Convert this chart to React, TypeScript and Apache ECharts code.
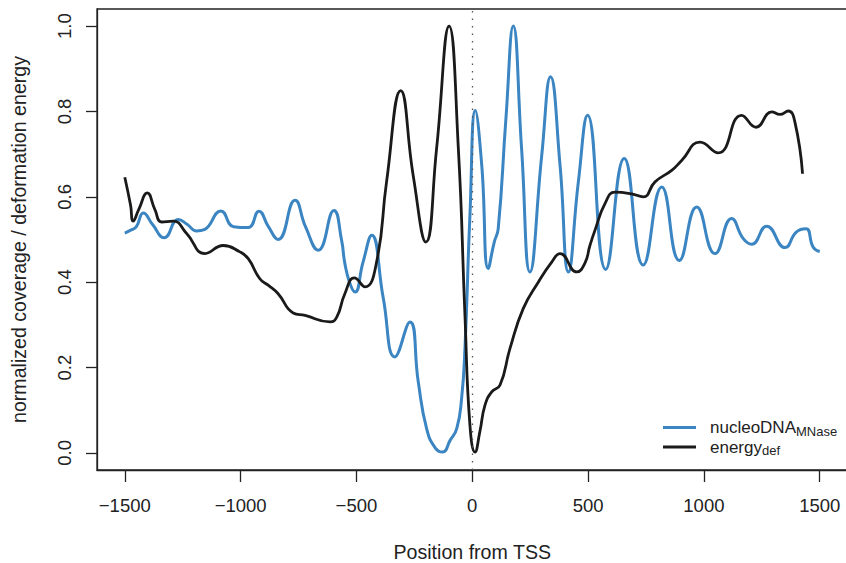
import React, { useEffect, useRef } from "react";
import * as echarts from "echarts";

const xTicks = [-1500, -1000, -500, 0, 500, 1000, 1500];
const yTicks = [0, 0.2, 0.4, 0.6, 0.8, 1.0];

const nucleoX = [
  -1500, -1470, -1450, -1420, -1380, -1330, -1269, -1230, -1190, -1157, -1085, -1030,
  -967, -921, -880, -838, -765, -720, -665, -597, -564, -550, -528, -506, -472, -434,
  -384, -334, -269, -233, -197, -160, -128, -95, -67, -46, -31.5, -10, 13, 41, 69,
  95, 112, 145, 177, 213, 249, 300, 338, 379, 415, 458, 498, 576, 656, 738, 818, 894,
  969, 1048, 1120, 1170, 1206, 1271, 1350, 1400, 1441, 1472, 1500,
];
const nucleoY = [
  0.515, 0.523, 0.53, 0.562, 0.535, 0.504, 0.547, 0.535, 0.52, 0.523, 0.567, 0.53,
  0.528, 0.566, 0.53, 0.5, 0.592, 0.53, 0.475, 0.568, 0.498, 0.444, 0.397, 0.377, 0.446, 0.51,
  0.362, 0.225, 0.307, 0.166, 0.057, 0.012, 0.002, 0.03, 0.057, 0.127, 0.245, 0.557, 0.802, 0.674, 0.432,
  0.494, 0.525, 0.78, 1.0, 0.713, 0.424, 0.697, 0.881, 0.674, 0.424, 0.635, 0.791, 0.43, 0.69, 0.44, 0.623, 0.451,
  0.576, 0.467, 0.549, 0.502, 0.489, 0.531, 0.481, 0.518, 0.525, 0.482, 0.472,
];

const energyX = [
  -1500, -1475, -1464, -1440, -1403, -1370, -1341, -1291, -1233, -1154, -1075, -1003,
  -967, -917, -881, -838, -773, -722, -614, -585, -550, -509, -463, -413, -370, -309,
  -255, -200, -154, -100, -60, -31.5, -10, 12, 33, 55, 84, 120, 163, 220, 285, 343,
  379, 451, 486, 508, 530, 573, 616, 688, 738, 789, 861, 904, 983, 1062, 1163, 1225,
  1293, 1328, 1364, 1393, 1426,
];
const energyY = [
  0.646, 0.58, 0.543, 0.57, 0.609, 0.57, 0.541, 0.543, 0.514, 0.467, 0.486, 0.471,
  0.455, 0.408, 0.393, 0.373, 0.328, 0.322, 0.307, 0.318, 0.373, 0.41, 0.389, 0.447, 0.635, 0.849,
  0.65, 0.494, 0.713, 1.0, 0.713, 0.322, 0.065, 0.002, 0.05, 0.112, 0.143, 0.159, 0.245, 0.338, 0.4, 0.447,
  0.467, 0.424, 0.444, 0.486, 0.522, 0.584, 0.611, 0.607, 0.6, 0.635, 0.662, 0.685, 0.728, 0.703, 0.791, 0.763,
  0.799, 0.793, 0.801, 0.775, 0.654,
];

const FONT = "'Liberation Sans', Arial, Helvetica, sans-serif";
const INK = "#222";
const BLUE = "#3a85c2";
const BLACK = "#1a1a1a";

const zip = (xs: number[], ys: number[]) => xs.map((x, i) => [x, ys[i]]);

export default function App() {
  const ref = useRef<HTMLDivElement>(null);
  useEffect(() => {
    if (!ref.current) return;
    const chart = echarts.init(ref.current, null, { renderer: "svg" });
    const option: any = {
      animation: false,
      backgroundColor: "#fff",
      grid: {
        left: 97,
        top: 9,
        width: 750.5,
        height: 461,
        show: true,
        borderColor: INK,
        borderWidth: 1.3,
        backgroundColor: "transparent",
        outerBoundsMode: "none",
        containLabel: false,
      },
      xAxis: {
        type: "value",
        min: -1620,
        max: 1620,
        splitLine: { show: false },
        axisLine: { show: true, onZero: false, lineStyle: { color: INK, width: 1.3 } },
        axisTick: { show: true, length: 12, customValues: xTicks, lineStyle: { color: INK, width: 1.3 } },
        axisLabel: {
          customValues: xTicks,
          formatter: (v: number) => (v < 0 ? "\u2212" + Math.abs(v) : String(v)),
          fontSize: 18.5,
          color: INK,
          fontFamily: FONT,
          margin: 26,
          hideOverlap: false,
        },
        name: "Position from TSS",
        nameLocation: "middle",
        nameGap: 72,
        nameTextStyle: { fontSize: 19.6, color: INK, fontFamily: FONT },
      },
      yAxis: {
        type: "value",
        min: -0.04,
        max: 1.04,
        splitLine: { show: false },
        axisLine: { show: true, onZero: false, lineStyle: { color: INK, width: 1.3 } },
        axisTick: { show: true, length: 11, customValues: yTicks, lineStyle: { color: INK, width: 1.3 } },
        axisLabel: {
          customValues: yTicks,
          formatter: (v: number) => v.toFixed(1),
          fontSize: 18.5,
          color: INK,
          fontFamily: FONT,
          rotate: 90,
          align: "center",
          verticalAlign: "bottom",
          margin: 23,
          hideOverlap: false,
        },
        name: "normalized coverage / deformation energy",
        nameLocation: "middle",
        nameGap: 68,
        nameTextStyle: { fontSize: 19.6, color: INK, fontFamily: FONT },
      },
      legend: {
        orient: "vertical",
        left: 658,
        top: 414,
        itemWidth: 33,
        itemHeight: 3,
        itemGap: 1,
        icon: "rect",
        data: ["nucleoDNA", "energy"],
        formatter: (name: string) =>
          name === "nucleoDNA" ? "{a|nucleoDNA}{s|MNase}" : "{a|energy}{s|def}",
        textStyle: {
          fontFamily: FONT,
          color: INK,
          rich: {
            a: { fontSize: 17, lineHeight: 20, padding: [0, 0, 0, 9], color: INK, fontFamily: FONT },
            s: { fontSize: 13, lineHeight: 12, verticalAlign: "bottom", color: INK, fontFamily: FONT },
          },
        },
      },
      series: [
        {
          name: "nucleoDNA",
          type: "line",
          data: zip(nucleoX, nucleoY),
          showSymbol: false,
          smooth: 0.5,
          itemStyle: { color: BLUE },
          lineStyle: { color: BLUE, width: 3 },
          markLine: {
            silent: true,
            symbol: ["none", "none"],
            label: { show: false },
            lineStyle: { color: "#555", width: 1.3, type: [1.5, 6] },
            data: [{ xAxis: 0 }],
          },
        },
        {
          name: "energy",
          type: "line",
          data: zip(energyX, energyY),
          showSymbol: false,
          smooth: 0.5,
          itemStyle: { color: BLACK },
          lineStyle: { color: BLACK, width: 2.8 },
        },
      ],
    };
    chart.setOption(option);
    return () => chart.dispose();
  }, []);
  return (
    <div
      ref={ref}
      style={{ position: "absolute", left: 0, top: 0, width: 846, height: 563, background: "#fff" }}
    />
  );
}
